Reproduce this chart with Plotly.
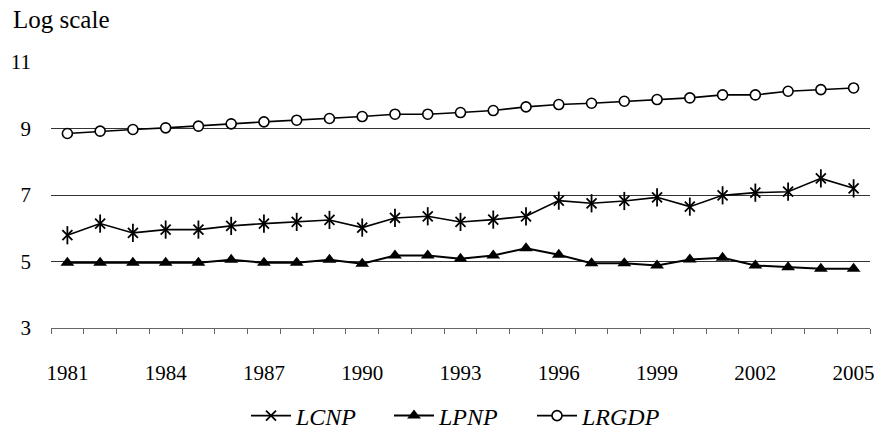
import plotly.graph_objects as go

years = list(range(1981, 2006))
lcnp = [5.79, 6.14, 5.86, 5.96, 5.96, 6.07, 6.14, 6.19, 6.25, 6.02, 6.31, 6.36, 6.19, 6.26, 6.36,
        6.83, 6.75, 6.82, 6.93, 6.65, 6.99, 7.07, 7.10, 7.50, 7.20]
lpnp = [4.96, 4.96, 4.96, 4.96, 4.96, 5.05, 4.96, 4.96, 5.05, 4.93, 5.18, 5.18, 5.08, 5.18, 5.40,
        5.20, 4.95, 4.95, 4.88, 5.06, 5.11, 4.88, 4.83, 4.78, 4.78]
lrgdp = [8.85, 8.92, 8.97, 9.02, 9.07, 9.14, 9.20, 9.25, 9.30, 9.36, 9.43, 9.43, 9.48, 9.54, 9.65,
         9.72, 9.76, 9.82, 9.87, 9.92, 10.01, 10.01, 10.12, 10.17, 10.22]
xtick_labels = [str(y) for y in range(1981, 2006, 3)]
ytick_vals = [3, 5, 7, 9, 11]

FONT = "Liberation Serif, Times New Roman, serif"

fig = go.Figure()
fig.add_trace(go.Scatter(
    x=years, y=lcnp, name="<i>LCNP</i>", mode="lines+markers",
    line=dict(color="black", width=1.6),
    marker=dict(symbol="x-thin-open", size=10, color="black", line=dict(color="black", width=1.8)),
))
fig.add_trace(go.Scatter(
    x=years, y=lcnp, showlegend=False, mode="markers", hoverinfo="skip",
    marker=dict(symbol="line-ns-open", size=13, color="black", line=dict(color="black", width=1.8)),
))
fig.add_trace(go.Scatter(
    x=years, y=lpnp, name="<i>LPNP</i>", mode="lines+markers",
    line=dict(color="black", width=2),
    marker=dict(symbol="triangle-up", size=12, color="black"),
))
fig.add_trace(go.Scatter(
    x=years, y=lrgdp, name="<i>LRGDP</i>", mode="lines+markers",
    line=dict(color="black", width=1.6),
    marker=dict(symbol="circle", size=10, color="white", line=dict(color="black", width=1.6)),
))

fig.update_layout(
    width=876, height=432,
    margin=dict(l=51, r=6, t=62, b=104),
    paper_bgcolor="white", plot_bgcolor="white",
    font=dict(family=FONT, size=21, color="black"),
    showlegend=True,
    legend=dict(orientation="h", x=0.5, xanchor="center",
                yref="container", y=0.037, yanchor="middle",
                font=dict(family=FONT, size=24), itemwidth=40, tracegroupgap=0,
                entrywidth=88),
    annotations=[dict(text="Log scale", xref="paper", yref="paper", x=-0.049, y=1.158,
                      xanchor="left", yanchor="middle", showarrow=False,
                      font=dict(family=FONT, size=25))],
)
fig.update_xaxes(
    range=[1980.5, 2005.5], tickmode="array",
    tickvals=[int(t) for t in xtick_labels], ticktext=xtick_labels,
    ticks="", showgrid=False, zeroline=False, automargin=False,
    showline=True, linecolor="#666", linewidth=1,
    ticklabelstandoff=26, ticklabeloverflow="allow",
    minor=dict(tickmode="array", tickvals=[y - 0.5 for y in years] + [2005.5],
               ticks="outside", ticklen=5, tickcolor="#666", showgrid=False),
)
fig.update_yaxes(
    range=[3, 11], tickmode="array", tickvals=ytick_vals, automargin=False,
    showgrid=True, gridcolor="#333", gridwidth=1, zeroline=False,
    showline=False, ticks="", ticklabelstandoff=19,
)
fig.write_html("out.html", config={"displayModeBar": False},
               post_script="document.body.style.margin='0';document.body.style.overflow='hidden';")
